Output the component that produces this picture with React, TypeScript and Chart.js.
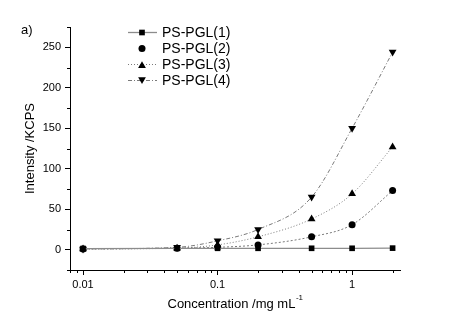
import React, { useEffect, useRef } from "react";
import { Chart, registerables } from "chart.js";

Chart.register(...registerables);

const concentrations = [0.01, 0.05, 0.1, 0.2, 0.5, 1, 2];
const pgl1 = [1.5, 1.8, 1.8, 1.8, 1.8, 1.8, 2];
const pgl2 = [1, 2, 3, 6, 16, 31, 73];
const pgl3 = [1, 2, 6, 16, 38, 69, 127];
const pgl4 = [1, 3, 11, 25, 65, 150, 244];
const seriesNames = ["PS-PGL(1)", "PS-PGL(2)", "PS-PGL(3)", "PS-PGL(4)"];
const xMajorTicks = [0.01, 0.1, 1];
const xMinorTicks = [0.008, 0.009, 0.02, 0.03, 0.04, 0.05, 0.06, 0.07, 0.08, 0.09, 0.2, 0.3, 0.4, 0.5, 0.6, 0.7, 0.8, 0.9, 2];
const yMajorTicks = [0, 50, 100, 150, 200, 250];
const yMinorTicks = [-25, 25, 75, 125, 175, 225, 275];
const xTitle = "Concentration /mg mL";
const xTitleSup = "-1";
const yTitle = "Intensity /KCPS";
const panelLabel = "a)";

const FONT = "'Liberation Sans', Arial, sans-serif";
const LINE_COLOR = "#7a7a7a";
const styles = [
  { point: "rect", dash: [] as number[], radius: 4, width: 1.3, legendLine: true, color: "#8c8c8c" },
  { point: "circle", dash: [2, 2], radius: 3.5, width: 1, legendLine: false, color: LINE_COLOR },
  { point: "triangle", dash: [1, 2], radius: 4.5, width: 1, legendLine: true, color: LINE_COLOR },
  { point: "triangle", dash: [4, 2, 1, 2], radius: 4.5, width: 1, legendLine: true, rotation: 180, color: LINE_COLOR },
];
const allSeries = [pgl1, pgl2, pgl3, pgl4];

function drawMarker(ctx: CanvasRenderingContext2D, type: string, r: number, rot: number, x: number, y: number) {
  ctx.beginPath();
  if (type === "rect") {
    const s = r * Math.SQRT1_2;
    ctx.rect(x - s, y - s, 2 * s, 2 * s);
  } else if (type === "circle") {
    ctx.arc(x, y, r, 0, Math.PI * 2);
  } else {
    const a = (rot * Math.PI) / 180;
    for (let k = 0; k < 3; k++) {
      const ang = a - Math.PI / 2 + (k * 2 * Math.PI) / 3;
      const px = x + r * Math.cos(ang);
      const py = y + r * Math.sin(ang) + (rot ? -r * 0.25 : r * 0.25);
      if (k === 0) ctx.moveTo(px, py);
      else ctx.lineTo(px, py);
    }
    ctx.closePath();
  }
  ctx.fill();
}

const overlayPlugin = {
  id: "overlay",
  afterDraw(chart: any) {
    const ctx = chart.ctx;
    const xs = chart.scales.x;
    const ys = chart.scales.y;
    const area = chart.chartArea;
    ctx.save();
    ctx.strokeStyle = "#000";
    ctx.lineWidth = 1;
    xMinorTicks.forEach((v) => {
      const px = Math.round(xs.getPixelForValue(v)) + 0.5;
      ctx.beginPath();
      ctx.moveTo(px, xs.top);
      ctx.lineTo(px, xs.top + 3);
      ctx.stroke();
    });
    yMinorTicks.forEach((v) => {
      const py = Math.round(ys.getPixelForValue(v)) + 0.5;
      ctx.beginPath();
      ctx.moveTo(ys.right, py);
      ctx.lineTo(ys.right - 3, py);
      ctx.stroke();
    });
    ctx.fillStyle = "#000";
    ctx.font = `13px ${FONT}`;
    ctx.textBaseline = "middle";
    ctx.textAlign = "left";
    ctx.fillText(panelLabel, 21, 30);

    // x title with superscript
    ctx.font = `13px ${FONT}`;
    const mainW = ctx.measureText(xTitle).width;
    ctx.font = `8px ${FONT}`;
    const supW = ctx.measureText(xTitleSup).width;
    const cx = (area.left + area.right) / 2;
    const startX = cx - (mainW + supW) / 2;
    ctx.font = `13px ${FONT}`;
    ctx.fillText(xTitle, startX, 304);
    ctx.font = `8px ${FONT}`;
    ctx.fillText(xTitleSup, startX + mainW + 0.5, 298);

    // y title
    ctx.save();
    ctx.translate(30, (area.top + area.bottom) / 2);
    ctx.rotate(-Math.PI / 2);
    ctx.textAlign = "center";
    ctx.font = `13px ${FONT}`;
    ctx.fillText(yTitle, 0, 0);
    ctx.restore();

    // legend
    const rows = [32, 48, 64, 80];
    seriesNames.forEach((name, i) => {
      const st = styles[i];
      const y = rows[i];
      if (st.legendLine) {
        ctx.save();
        ctx.strokeStyle = st.color;
        ctx.lineWidth = st.width;
        ctx.setLineDash(st.dash);
        ctx.beginPath();
        ctx.moveTo(128, y + 0.5);
        ctx.lineTo(157, y + 0.5);
        ctx.stroke();
        ctx.restore();
      }
      ctx.save();
      ctx.fillStyle = "#000";
      drawMarker(ctx, st.point, st.radius, (st as any).rotation || 0, 142, y + 0.5);
      ctx.restore();
      ctx.fillStyle = "#000";
      ctx.textAlign = "left";
      ctx.font = `14px ${FONT}`;
      ctx.fillText(name, 162, y + 1);
    });
    ctx.restore();
  },
};

export default function App() {
  const ref = useRef<HTMLCanvasElement | null>(null);
  useEffect(() => {
    document.body.style.margin = "0";
    const canvas = ref.current!;
    const datasets = allSeries.map((vals, i) => {
      const st = styles[i];
      return {
        label: seriesNames[i],
        data: concentrations.map((c, j) => ({ x: c, y: vals[j] })),
        borderColor: st.color,
        borderWidth: st.width,
        borderDash: st.dash,
        backgroundColor: "#000",
        pointBackgroundColor: "#000",
        pointBorderColor: "#000",
        pointBorderWidth: 0,
        pointStyle: st.point,
        pointRadius: st.radius,
        pointRotation: (st as any).rotation || 0,
        tension: i === 0 ? 0 : 0.4,
        cubicInterpolationMode: i === 0 ? "default" : "monotone",
        showLine: true,
        fill: false,
      };
    });
    const chart = new Chart(canvas, {
      type: "line",
      data: { datasets: datasets as any },
      options: {
        animation: false,
        responsive: false,
        maintainAspectRatio: false,
        layout: { padding: { top: 27, right: 51, left: 0, bottom: 0 } },
        plugins: { legend: { display: false }, tooltip: { enabled: false } },
        scales: {
          x: {
            type: "logarithmic",
            min: 0.008,
            max: 2.27,
            afterBuildTicks: (scale: any) => {
              scale.ticks = xMajorTicks.map((v) => ({ value: v }));
            },
            afterFit: (scale: any) => {
              scale.height = 53;
            },
            ticks: {
              color: "#000",
              font: { family: FONT, size: 11 },
              padding: 3,
              maxRotation: 0,
              autoSkip: false,
              callback: (v: any) => String(v),
            },
            grid: { drawOnChartArea: false, drawTicks: true, tickLength: 5, color: "#000" },
            border: { display: true, color: "#000", width: 1 },
            title: { display: false },
          },
          y: {
            type: "linear",
            min: -25,
            max: 275,
            afterBuildTicks: (scale: any) => {
              scale.ticks = yMajorTicks.map((v) => ({ value: v }));
            },
            afterFit: (scale: any) => {
              scale.width = 70;
            },
            ticks: {
              color: "#000",
              font: { family: FONT, size: 11 },
              padding: 4,
              autoSkip: false,
            },
            grid: { drawOnChartArea: false, drawTicks: true, tickLength: 5, color: "#000" },
            border: { display: true, color: "#000", width: 1 },
            title: { display: false },
          },
        },
      },
      plugins: [overlayPlugin],
    } as any);
    return () => chart.destroy();
  }, []);
  return (
    <div style={{ width: 451, height: 323, background: "#fff" }}>
      <canvas ref={ref} width={451} height={323} style={{ display: "block" }} />
    </div>
  );
}
